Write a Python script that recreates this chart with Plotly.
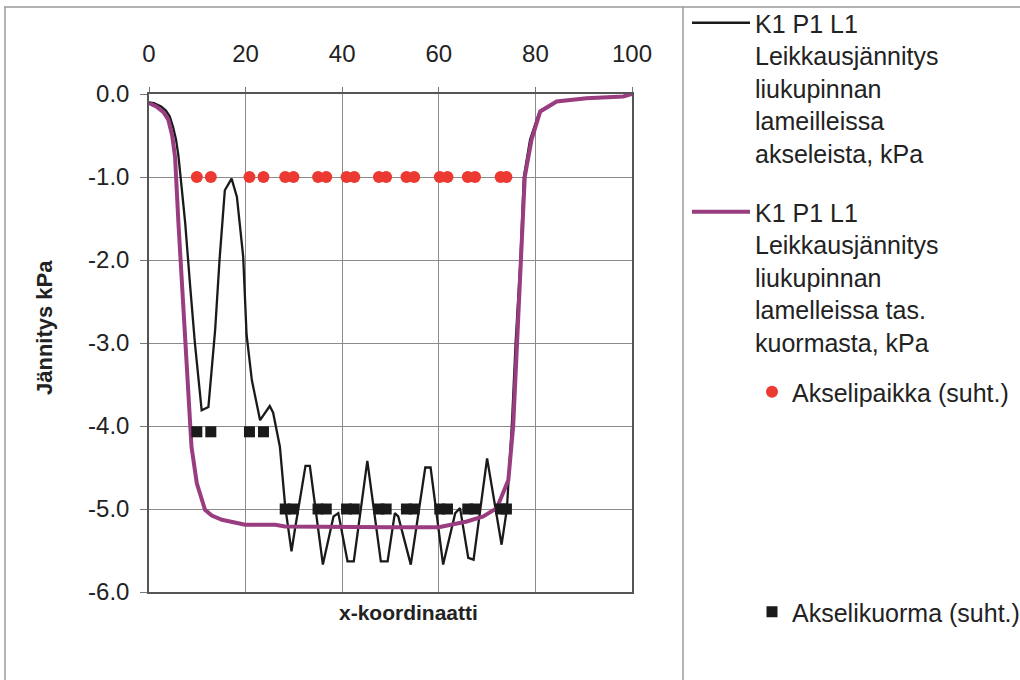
import plotly.graph_objects as go

# Shear stress along the slip surface, loaded by axles
axle_x = [9.9, 12.8, 20.8, 23.7, 28.2, 29.9, 35.0, 36.7, 40.9, 42.5,
          47.6, 49.1, 53.3, 54.9, 60.2, 61.8, 66.0, 67.5, 72.8, 74.0]
axle_pos_y = [-1.0, -1.0, -1.0, -1.0, -1.0, -1.0, -1.0, -1.0, -1.0, -1.0,
              -1.0, -1.0, -1.0, -1.0, -1.0, -1.0, -1.0, -1.0, -1.0, -1.0]
axle_load_y = [-4.07, -4.07, -4.07, -4.07, -5.0, -5.0, -5.0, -5.0, -5.0, -5.0,
               -5.0, -5.0, -5.0, -5.0, -5.0, -5.0, -5.0, -5.0, -5.0, -5.0]

axle_stress_x = [0, 1, 2.5, 3.5, 4.3, 5.0, 5.6, 6.1, 6.8, 7.5, 8.5, 9.5, 10.9, 12.3,
                 13.7, 14.6, 15.7, 17.1, 18.2, 19.5, 20.2, 21.3, 23.0, 25.0, 25.7,
                 27.1, 28.2, 29.5, 30.2, 32.4, 33.3, 36.0, 38.2, 39.2, 41.1, 42.4,
                 45.2, 48.0, 49.4, 50.9, 51.6, 54.2, 57.2, 58.3, 60.9, 63.4, 64.4,
                 66.1, 67.2, 70.0, 73.0, 74.1, 74.6, 75.2, 75.9, 76.9, 77.6, 78.9,
                 80.8, 84.4, 90.6, 98.2, 100]
axle_stress_y = [-0.10, -0.11, -0.15, -0.20, -0.27, -0.40, -0.55, -0.75, -1.15, -1.56,
                 -2.30, -3.00, -3.81, -3.77, -2.84, -2.00, -1.16, -1.02, -1.24, -1.96,
                 -2.90, -3.45, -3.93, -3.76, -3.84, -4.25, -4.97, -5.51, -5.25, -4.48,
                 -4.48, -5.67, -5.09, -5.05, -5.63, -5.63, -4.42, -5.63, -5.63, -5.05,
                 -5.09, -5.67, -4.50, -4.50, -5.67, -5.05, -4.99, -5.59, -5.61, -4.39,
                 -5.43, -5.00, -4.50, -3.90, -3.00, -2.00, -1.00, -0.55, -0.22, -0.09,
                 -0.05, -0.03, 0.0]

uniform_x = [0, 1.5, 3.0, 4.0, 4.8, 5.4, 6.1, 6.8, 7.5, 8.1, 8.8, 9.9, 11.6, 13.0,
             15.1, 19.9, 26.1, 28.2, 40.0, 50.0, 60.0, 65.8, 69.2, 72.0, 73.0, 74.4,
             75.4, 76.2, 77.2, 77.8, 79.2, 81.0, 84.4, 90.6, 98.2, 100]
uniform_y = [-0.11, -0.15, -0.22, -0.31, -0.50, -0.76, -1.56, -2.30, -3.00, -3.65,
             -4.25, -4.69, -5.01, -5.08, -5.13, -5.19, -5.19, -5.21, -5.22, -5.22,
             -5.22, -5.15, -5.09, -4.99, -4.85, -4.65, -4.00, -3.00, -1.96, -1.00,
             -0.55, -0.21, -0.09, -0.05, -0.03, 0.0]

x_ticks = [0, 20, 40, 60, 80, 100]
y_ticks = [0, -1, -2, -3, -4, -5, -6]
y_tick_labels = ["0.0", "-1.0", "-2.0", "-3.0", "-4.0", "-5.0", "-6.0"]

name_axle = "K1 P1 L1<br>Leikkausjännitys<br>liukupinnan<br>lameilleissa<br>akseleista, kPa"
name_uniform = "K1 P1 L1<br>Leikkausjännitys<br>liukupinnan<br>lamelleissa tas.<br>kuormasta, kPa"

FONT = "Liberation Sans, Arial, sans-serif"
W, H = 1020, 680
L, R, T, B = 149, 388, 94, 88
PW, PH = W - L - R, H - T - B


def px_x(p):
    return (p - L) / PW


def px_y(p):
    return (H - B - p) / PH


fig = go.Figure()
fig.add_trace(go.Scatter(x=axle_stress_x, y=axle_stress_y, mode="lines", name=name_axle,
                         line=dict(color="#1a1a1a", width=2.3), legend="legend"))
fig.add_trace(go.Scatter(x=uniform_x, y=uniform_y, mode="lines", name=name_uniform,
                         line=dict(color="#993D80", width=4), legend="legend2"))
fig.add_trace(go.Scatter(x=axle_x, y=axle_pos_y, mode="markers", name="Akselipaikka (suht.)",
                         marker=dict(color="#EC3A32", size=12, symbol="circle"),
                         legend="legend3"))
fig.add_trace(go.Scatter(x=axle_x, y=axle_load_y, mode="markers", name="Akselikuorma (suht.)",
                         marker=dict(color="#1a1a1a", size=11, symbol="square"),
                         legend="legend4"))

leg_common = dict(xref="container", yref="container", xanchor="left", yanchor="top",
                  valign="top", bgcolor="rgba(0,0,0,0)", visible=True,
                  font=dict(family=FONT, size=25, color="#222"))
tick_font = dict(family=FONT, size=24, color="#222")
fig.update_layout(
    width=W, height=H,
    margin=dict(l=L, r=R, t=T, b=B),
    paper_bgcolor="white", plot_bgcolor="white",
    font=dict(family=FONT, color="#222"),
    showlegend=True,
    legend=dict(x=687 / W, y=1 + 5 / H, itemwidth=58, **leg_common),
    legend2=dict(x=687 / W, y=1 - 189 / H, itemwidth=58, **leg_common),
    legend3=dict(x=752 / W, y=1 - 369 / H, itemwidth=30, **leg_common),
    legend4=dict(x=752 / W, y=1 - 589 / H, itemwidth=30, **leg_common),
    xaxis=dict(range=[0, 100], side="top", tickvals=x_ticks, ticks="outside", ticklen=5,
               tickcolor="#777", showgrid=True, gridcolor="#8a8a8a", gridwidth=1,
               showline=True, linecolor="#555", linewidth=1.5, mirror=True,
               zeroline=False, tickfont=tick_font, ticklabelstandoff=16),
    yaxis=dict(range=[-6, 0], tickvals=y_ticks, ticktext=y_tick_labels, ticks="outside",
               ticklen=7, tickcolor="#777", showgrid=True, gridcolor="#8a8a8a",
               gridwidth=1, showline=True, linecolor="#555", linewidth=1.5, mirror=True,
               zeroline=False, tickfont=tick_font, ticklabelstandoff=6),
    annotations=[
        dict(text="<b>Jännitys kPa</b>", xref="paper", yref="paper",
             x=px_x(44), y=px_y(328), textangle=-90, showarrow=False,
             xanchor="center", yanchor="middle",
             font=dict(family=FONT, size=22, color="#222")),
        dict(text="<b>x-koordinaatti</b>", xref="paper", yref="paper",
             x=px_x(408), y=px_y(612), showarrow=False,
             xanchor="center", yanchor="middle",
             font=dict(family=FONT, size=21, color="#222")),
    ],
    shapes=[
        dict(type="line", xref="paper", yref="paper", x0=px_x(4), x1=px_x(1020),
             y0=px_y(7), y1=px_y(7), line=dict(color="#9a9a9a", width=1.5)),
        dict(type="line", xref="paper", yref="paper", x0=px_x(5), x1=px_x(5),
             y0=px_y(680), y1=px_y(7), line=dict(color="#9a9a9a", width=1.5)),
        dict(type="line", xref="paper", yref="paper", x0=px_x(683), x1=px_x(683),
             y0=px_y(680), y1=px_y(7), line=dict(color="#9a9a9a", width=1.5)),
    ],
)

fig.write_html("out.html")
